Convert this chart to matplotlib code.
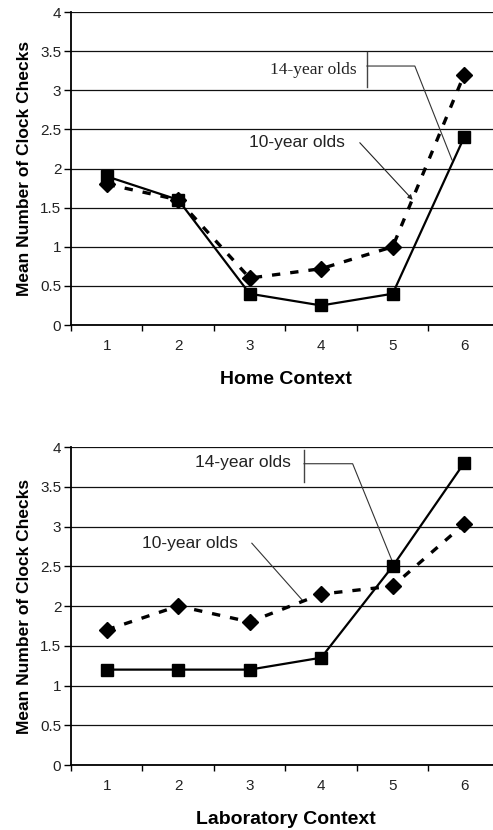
import matplotlib.pyplot as plt
import numpy as np

# data
contexts = [1, 2, 3, 4, 5, 6]
home_14 = [1.9, 1.6, 0.4, 0.25, 0.4, 2.4]
home_10 = [1.8, 1.6, 0.6, 0.72, 1.0, 3.2]
lab_14 = [1.2, 1.2, 1.2, 1.35, 2.5, 3.8]
lab_10 = [1.7, 2.0, 1.8, 2.15, 2.25, 3.03]
y_ticks = [0, 0.5, 1, 1.5, 2, 2.5, 3, 3.5, 4]
y_labels = ['0', '0.5', '1', '1.5', '2', '2.5', '3', '3.5', '4']

plt.rcParams['font.family'] = ['Liberation Sans', 'DejaVu Sans']

fig = plt.figure(figsize=(4.93, 8.30), dpi=100)
ax1 = fig.add_axes([0.144, 0.6084, 0.870, 0.3771])
ax2 = fig.add_axes([0.144, 0.0783, 0.870, 0.3831])


def style_axes(ax, xlabel):
    ax.set_xlim(0.5, 6.5)
    ax.set_ylim(0, 4)
    ax.set_yticks(y_ticks)
    ax.set_yticklabels(y_labels, fontsize=11, color='#222222')
    ax.set_xticks(contexts)
    ax.set_xticklabels([str(c) for c in contexts], fontsize=11, color='#222222')
    ax.set_xticks(np.arange(0.5, 7.0, 1.0), minor=True)
    ax.tick_params(axis='x', which='major', length=0, pad=10)
    ax.tick_params(axis='x', which='minor', length=4, width=1, direction='out')
    ax.tick_params(axis='y', length=5, width=1, direction='out', pad=2)
    ax.grid(True, axis='y', color='#111111', linewidth=0.9)
    ax.set_axisbelow(True)
    for side in ['top', 'right']:
        ax.spines[side].set_visible(False)
    ax.spines['left'].set_linewidth(1.3)
    ax.spines['bottom'].set_linewidth(1.3)
    ax.set_ylabel('Mean Number of Clock Checks', fontsize=12.5, fontweight='bold', labelpad=6)
    ax.set_xlabel(xlabel, fontsize=14, fontweight='bold', labelpad=13)


def draw_lines(ax, s14, s10):
    ax.plot(contexts, s14, color='black', linewidth=1.6, marker='s', markersize=9, zorder=3)
    ax.plot(contexts, s10, color='black', linewidth=2.4, linestyle=(0, (2.5, 3)),
            marker='D', markersize=8, zorder=3)


style_axes(ax1, 'Home Context')
draw_lines(ax1, home_14, home_10)
style_axes(ax2, 'Laboratory Context')
draw_lines(ax2, lab_14, lab_10)

# callouts, top chart
ax1.text(3.885, 3.26, '14-year olds', fontsize=12.5, family='Liberation Serif',
         ha='center', va='center', color='#222222')
ax1.plot([4.64, 4.64], [3.04, 3.49], color='#444444', linewidth=1.0)
ax1.plot([4.64, 5.31, 5.83], [3.31, 3.31, 2.11], color='#333333', linewidth=0.8)
ax1.text(3.66, 2.33, '10-year olds', fontsize=12.5, ha='center', va='center', color='#222222')
ax1.annotate('', xy=(5.28, 1.60), xytext=(4.54, 2.33),
             arrowprops=dict(arrowstyle='-|>', color='#222222', lw=0.8,
                             mutation_scale=7, shrinkA=0, shrinkB=0))

# callouts, bottom chart
ax2.text(2.905, 3.80, '14-year olds', fontsize=12.5, ha='center', va='center', color='#222222')
ax2.plot([3.76, 3.76], [3.56, 3.96], color='#444444', linewidth=1.0)
ax2.plot([3.76, 4.44, 5.0], [3.79, 3.79, 2.55], color='#333333', linewidth=0.8)
ax2.text(2.16, 2.79, '10-year olds', fontsize=12.5, ha='center', va='center', color='#222222')
ax2.plot([3.03, 3.73], [2.79, 2.08], color='#333333', linewidth=0.8)

fig.savefig('out.png', dpi=100)
